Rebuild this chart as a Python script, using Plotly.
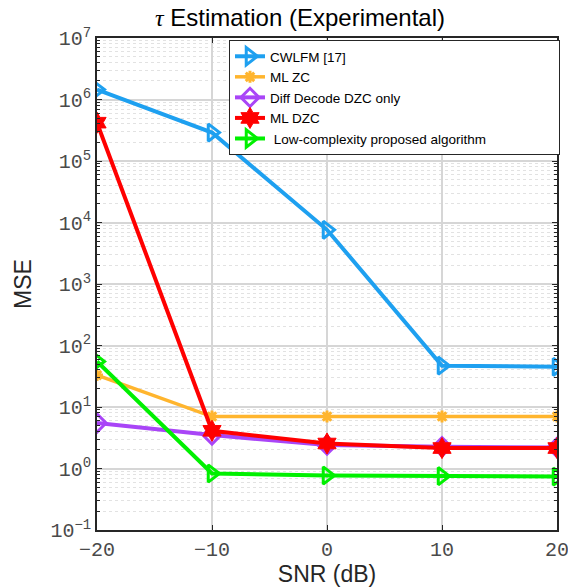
import plotly.graph_objects as go

# SNR sweep (dB)
snr_db = [-20, -10, 0, 10, 20]

# Mean squared error of the tau estimate for each method
mse_cwlfm = [1.45e6, 2.9e5, 7.6e3, 47, 45]
mse_ml_zc = [33, 7.0, 7.0, 7.0, 7.0]
mse_diff_decode = [5.5, 3.5, 2.4, 2.25, 2.2]
mse_ml_dzc = [4.2e5, 4.1, 2.55, 2.15, 2.15]
mse_low_complexity = [55, 0.83, 0.77, 0.75, 0.74]

series_names = [
    "CWLFM [17]",
    "ML ZC",
    "Diff Decode DZC only",
    "ML DZC",
    " Low-complexity proposed algorithm",
]

# Decade tick positions and their labels
y_decades = [-1, 0, 1, 2, 3, 4, 5, 6, 7]
x_ticks = [-20, -10, 0, 10, 20]

y_tickvals = [10.0 ** p for p in y_decades]
y_ticktext = ["10<sup>" + (str(p) if p >= 0 else "\u2212" + str(-p)) + "</sup>" for p in y_decades]
y_minor = [k * 10.0 ** p for p in y_decades[:-1] for k in range(2, 10)]

styles = [
    dict(color="#1ea0f0", symbol="triangle-right-open", size=15, lw=4, mlw=3),
    dict(color="#ffb52e", symbol="asterisk-open", size=10, lw=3.5, mlw=3),
    dict(color="#a945f7", symbol="diamond-open", size=14, lw=4, mlw=3),
    dict(color="#ff0000", symbol="hexagram", size=16, lw=4, mlw=1),
    dict(color="#00f000", symbol="triangle-right-open", size=15, lw=4, mlw=3),
]

series = [mse_cwlfm, mse_ml_zc, mse_diff_decode, mse_ml_dzc, mse_low_complexity]

fig = go.Figure()
for name, ys, st in zip(series_names, series, styles):
    fig.add_trace(
        go.Scatter(
            x=snr_db,
            y=ys,
            name=name,
            mode="lines+markers",
            line=dict(color=st["color"], width=st["lw"]),
            marker=dict(
                symbol=st["symbol"],
                size=st["size"],
                color=st["color"],
                line=dict(color=st["color"], width=st["mlw"]),
            ),
        )
    )

axis_line = "#262626"
tick_font = dict(family="Liberation Mono", size=20, color="#4a4a4a")
label_font = dict(family="Liberation Sans", size=23, color="#262626")

# plot area in pixels
L, R, T, B = 97, 557, 38, 530
W, H = 568, 587

fig.update_layout(
    width=W,
    height=H,
    margin=dict(l=L, r=W - R, t=T, b=H - B, autoexpand=False),
    paper_bgcolor="white",
    plot_bgcolor="white",
    title=dict(
        text="<span style=\"font-family:'Liberation Serif'\"><i>\u03c4</i></span> Estimation (Experimental)",
        x=300 / W,
        xanchor="center",
        y=1 - 18 / H,
        yanchor="middle",
        font=dict(family="Liberation Sans", size=24, color="black"),
    ),
    showlegend=True,
    legend=dict(
        orientation="h",
        x=(229 - L) / (R - L),
        y=1 - 2 / (B - T),
        xanchor="left",
        yanchor="top",
        bgcolor="white",
        bordercolor="#262626",
        borderwidth=1,
        font=dict(family="Liberation Sans", size=13.5, color="black"),
        tracegroupgap=0,
        itemwidth=30,
        entrywidth=284,
        entrywidthmode="pixels",
    ),
    xaxis=dict(
        range=[-20, 20],
        tickvals=x_ticks,
        tickfont=tick_font,
        ticklabeloverflow="allow",
        ticks="inside",
        ticklen=5,
        tickcolor=axis_line,
        showline=True,
        linecolor=axis_line,
        linewidth=1.5,
        mirror="allticks",
        showgrid=True,
        gridcolor="#d6d6d6",
        gridwidth=1.5,
        zeroline=False,
        automargin=False,
        title=dict(text="SNR (dB)", font=label_font, standoff=10),
    ),
    yaxis=dict(
        type="log",
        range=[-1, 7],
        tickmode="array",
        tickvals=y_tickvals,
        ticktext=y_ticktext,
        tickfont=tick_font,
        ticklabeloverflow="allow",
        ticks="inside",
        ticklen=5,
        tickcolor=axis_line,
        showline=True,
        linecolor=axis_line,
        linewidth=1.5,
        mirror="allticks",
        showgrid=True,
        gridcolor="#d6d6d6",
        gridwidth=1.5,
        zeroline=False,
        automargin=False,
        minor=dict(
            tickmode="array",
            tickvals=y_minor,
            ticks="inside",
            ticklen=3,
            tickcolor=axis_line,
            showgrid=True,
            gridcolor="#e2e2e2",
            griddash="dot",
            gridwidth=1,
        ),
        title=dict(text="MSE", font=label_font, standoff=12),
    ),
)

fig.write_html("out.html")
